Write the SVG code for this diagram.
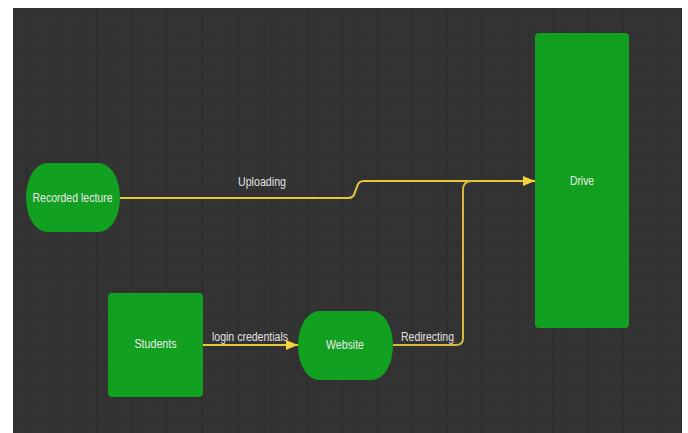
<svg xmlns="http://www.w3.org/2000/svg" width="688" height="433" viewBox="0 0 688 433">
<style>
.node{fill:#12a020;}
.lbl{font-family:"Liberation Sans",Arial,sans-serif;font-size:13.5px;fill:#ececec;text-anchor:middle;}
.elbl{font-family:"Liberation Sans",Arial,sans-serif;font-size:13.5px;fill:#e2e2e2;text-anchor:middle;}
.edge{fill:none;stroke-width:2;}
</style>
<defs>
<pattern id="grid" x="26" y="-2.3" width="35.1" height="52.8" patternUnits="userSpaceOnUse">
<path d="M11.7 0V52.8M23.4 0V52.8M0 17.6H35.1M0 35.2H35.1" stroke="#303030" stroke-width="1" fill="none"/>
<path d="M0.5 0V52.8M0 0.5H35.1" stroke="#2c2c2c" stroke-width="1.2" fill="none"/>
</pattern>
<marker id="arrY" viewBox="0 0 12 10" refX="12" refY="5" markerWidth="12" markerHeight="10" markerUnits="userSpaceOnUse" orient="auto">
<path d="M0 0L12 5L0 10z" fill="#f2d43c"/>
</marker>
</defs>
<rect x="0" y="0" width="688" height="433" fill="#ffffff"/>
<rect x="13" y="8" width="669" height="425" fill="#333333"/>
<rect x="13" y="8" width="669" height="425" fill="url(#grid)"/>
<g id="connectors">
<path class="edge" stroke="#e8c83a" d="M120 198H348Q354 198 355 192L357 187Q358 181 364 181H535" marker-end="url(#arrY)"/>
<path class="edge" stroke="#e6c83a" d="M203 345H298" marker-end="url(#arrY)"/>
<path class="edge" stroke="#d6b93c" d="M393 345H456Q463 345 463 338V190Q463 181 472 181"/>
</g>
<g id="edge-labels">
<text class="elbl" x="262" y="186" textLength="48" lengthAdjust="spacingAndGlyphs">Uploading</text>
<text class="elbl" x="250" y="341" textLength="76" lengthAdjust="spacingAndGlyphs">login credentials</text>
<text class="elbl" x="427.5" y="341" textLength="53" lengthAdjust="spacingAndGlyphs">Redirecting</text>
</g>
<g id="node-recorded-lecture">
<rect class="node" x="26" y="163" width="94" height="69" rx="21" ry="34.5"/>
<text class="lbl" x="72.5" y="202" textLength="80" lengthAdjust="spacingAndGlyphs">Recorded lecture</text>
</g>
<g id="node-students">
<rect class="node" x="108" y="293" width="95" height="104" rx="4"/>
<text class="lbl" x="155.5" y="348" textLength="42" lengthAdjust="spacingAndGlyphs">Students</text>
</g>
<g id="node-website">
<rect class="node" x="298" y="311" width="95" height="69" rx="21" ry="34.5"/>
<text class="lbl" x="345" y="349" textLength="38" lengthAdjust="spacingAndGlyphs">Website</text>
</g>
<g id="node-drive">
<rect class="node" x="535" y="33" width="94" height="295" rx="4"/>
<text class="lbl" x="582" y="185" textLength="24" lengthAdjust="spacingAndGlyphs">Drive</text>
</g>
</svg>
